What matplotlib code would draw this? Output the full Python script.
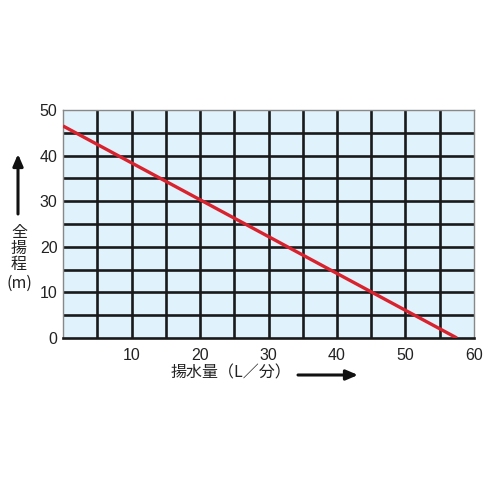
import matplotlib
matplotlib.use("Agg")
import matplotlib.pyplot as plt
import numpy as np

plt.rcParams['font.family'] = ['Noto Sans CJK JP', 'DejaVu Sans']

flow = [0, 57.5]          # 揚水量 (L/分)
head = [46.5, 0]          # 全揚程 (m)
xticks = [10, 20, 30, 40, 50, 60]
yticks = [0, 10, 20, 30, 40, 50]
ylabel_chars = ['全', '揚', '程', '(m)']
xlabel = '揚水量（L／分）'

fig = plt.figure(figsize=(4.88, 4.88), dpi=100)
ax = fig.add_axes([63/488, 1-338/488, (474-63)/488, (338-110)/488])
ax.set_facecolor('#e0f2fb')
ax.set_xlim(0, 60)
ax.set_ylim(0, 50)
for v in np.arange(5, 60, 5):
    ax.axvline(v, color='#1a1a1a', lw=1.9, zorder=1)
for v in np.arange(5, 50, 5):
    ax.axhline(v, color='#1a1a1a', lw=1.9, zorder=1)
ax.plot(flow, head, color='#d8232e', lw=2.4, zorder=3, solid_capstyle='butt')
ax.set_xticks(xticks)
ax.set_yticks(yticks)
ax.tick_params(length=0, labelsize=11.5, colors='#222222')
ax.tick_params(axis='x', pad=7)
ax.tick_params(axis='y', pad=4)
ax.set_xticklabels([str(t) for t in xticks], family='Liberation Sans')
ax.set_yticklabels([str(t) for t in yticks], family='Liberation Sans')
for s in ['top', 'right', 'left']:
    ax.spines[s].set_color('#888888')
    ax.spines[s].set_linewidth(1.0)
ax.spines['bottom'].set_color('#1a1a1a')
ax.spines['bottom'].set_linewidth(1.9)

# y label (vertical stacked) with up arrow
ypos = [232, 248, 265, 283]
for ch, yp in zip(ylabel_chars, ypos):
    fig.text(19/488, 1-yp/488, ch, ha='center', va='center',
             fontsize=11.5, color='#222222')
fig.add_artist(matplotlib.patches.FancyArrowPatch(
    (18/488, 1-214/488), (18/488, 1-154/488), transform=fig.transFigure,
    arrowstyle='-|>,head_length=7,head_width=3', color='#111111', lw=2.2,
    shrinkA=0, shrinkB=0))
# x label with right arrow
fig.text(231/488, 1-373/488, xlabel, ha='center', va='center',
         fontsize=11.5, color='#222222')
fig.add_artist(matplotlib.patches.FancyArrowPatch(
    (298/488, 1-375/488), (358/488, 1-375/488), transform=fig.transFigure,
    arrowstyle='-|>,head_length=7,head_width=3', color='#111111', lw=2.2,
    shrinkA=0, shrinkB=0))

fig.savefig('out.png', dpi=100, facecolor='white')
